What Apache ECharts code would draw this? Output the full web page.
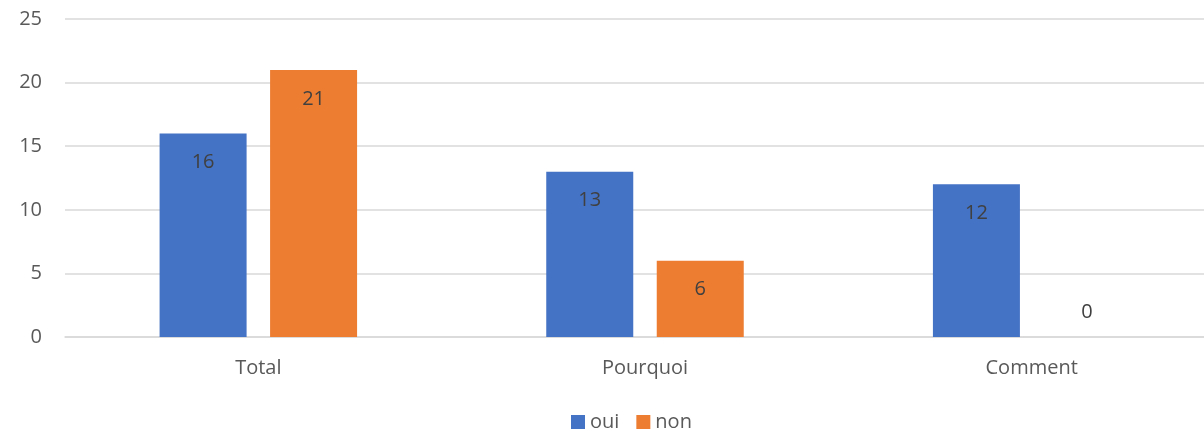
<!DOCTYPE html>
<html><head><meta charset="utf-8">
<script src="https://cdn.jsdelivr.net/npm/echarts@6/dist/echarts.min.js"></script>
<style>html,body{margin:0;padding:0;background:#fff;overflow:hidden;width:1204px;height:431px}#c{width:1230px;height:431px}</style>
</head><body><div id="c"></div>
<script>
const categories = ['Total', 'Pourquoi', 'Comment'];
const ouiValues = [16, 13, 12];
const nonValues = [21, 6, 0];
const seriesNames = ['oui', 'non'];

const font = '"Open Sans", "Noto Sans", sans-serif';
function mk(vals) {
  return vals.map(v => v === 0 ? { value: v, label: { position: 'top', distance: 15 } } : v);
}
const labelStyle = { show: true, position: 'insideTop', distance: 19, color: '#404040', fontSize: 20, fontFamily: font };
const chart = echarts.init(document.getElementById('c'), null, { renderer: 'canvas' });
chart.setOption({
  animation: false,
  textStyle: { fontFamily: font },
  grid: { left: 65, top: 19, width: 1160, height: 318, containLabel: false },
  legend: {
    top: 412, left: 571, padding: 0, itemWidth: 14, itemHeight: 14, itemGap: 17,
    icon: 'rect', data: seriesNames,
    textStyle: { color: '#595959', fontSize: 20, fontFamily: font }
  },
  xAxis: {
    type: 'category', data: categories,
    axisLine: { lineStyle: { color: '#d9d9d9', width: 1.5 } },
    axisTick: { show: false },
    axisLabel: { color: '#595959', fontSize: 20, margin: 21, fontFamily: font }
  },
  yAxis: {
    type: 'value', min: 0, max: 25, interval: 5,
    axisLine: { show: false }, axisTick: { show: false },
    splitLine: { lineStyle: { color: '#d9d9d9', width: 1.5 } },
    axisLabel: { color: '#595959', fontSize: 20, margin: 23, fontFamily: font }
  },
  series: [
    { name: seriesNames[0], type: 'bar', data: mk(ouiValues), barWidth: 87, barGap: '27%', itemStyle: { color: '#4472C4' }, label: labelStyle },
    { name: seriesNames[1], type: 'bar', data: mk(nonValues), barWidth: 87, barGap: '27%', itemStyle: { color: '#ED7D31' }, label: labelStyle }
  ]
});
</script></body></html>
